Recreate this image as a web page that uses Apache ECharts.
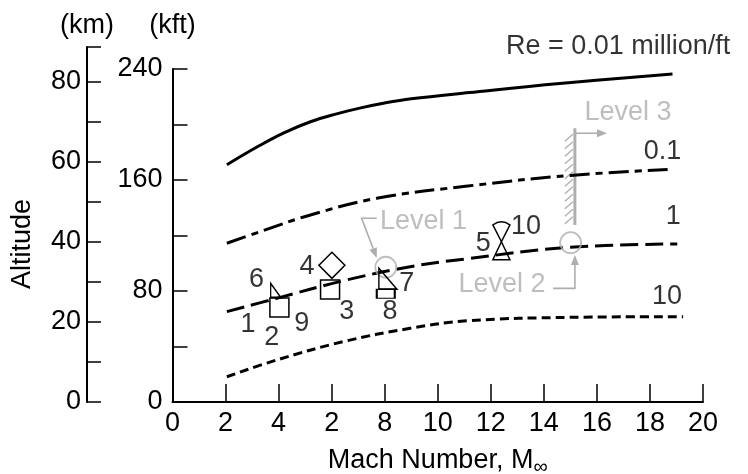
<!DOCTYPE html>
<html>
<head>
<meta charset="utf-8">
<script src="https://cdn.jsdelivr.net/npm/echarts@6/dist/echarts.min.js"></script>
<style>
  html, body { margin: 0; padding: 0; background: #fff; }
  #chart { width: 748px; height: 474px; }
</style>
</head>
<body>
<div id="chart"></div>
<script>
// axis labels
const xTickLabels = ['0', '2', '4', '2', '8', '10', '12', '14', '16', '18', '20'];
const kftLabelValues = [0, 80, 160, 240];
const kftTickValues = [40, 80, 120, 160, 200, 240];
const kmLabelValues = [0, 20, 40, 60, 80];
const kmTickValues = [0, 10, 20, 30, 40, 50, 60, 70, 80, 88.75];

// constant Reynolds number curves (Mach, altitude in kft)
const re001Mach = [2.05, 3.3, 4.2, 5.2, 6.15, 7.1, 8.0, 9.0, 11.2, 14.6, 18.85];
const re001Alt = [171, 185, 194, 202, 207.5, 212, 215.5, 218.5, 223, 229.5, 236.4];
const re01Mach = [2.05, 3.3, 5.2, 7.7, 11.2, 15.0, 18.85];
const re01Alt = [114.4, 122.7, 134.8, 146.8, 155.8, 163.3, 167.7];
const re1Mach = [2.05, 3.93, 6.44, 8.96, 11.0, 15.0, 19.03];
const re1Alt = [65.1, 74.7, 87.4, 97.5, 103, 111.5, 113.9];
const re10Mach = [2.05, 3.93, 6.44, 8.96, 11.1, 15.0, 19.25];
const re10Alt = [18.2, 30.3, 43.5, 53.1, 58.5, 61, 61.5];

const curveLabels = ['Re = 0.01 million/ft', '0.1', '1', '10'];
const curveLabelMach = [16.8, 18.47, 18.88, 18.64];
const curveLabelAlt = [255.9, 180.2, 134, 75.7];

// test points
const squareMach = [4.03, 5.94];
const squareAlt = [68.1, 81.1];
const diamondMach = [6.01];
const diamondAlt = [98.5];
const flagMach = [3.89];
const flagAlt = [80.5];
const wedgeMach = [8.12];
const wedgeAlt = [88.9];
const slabMach = [8.04];
const slabAlt = [78.0];
const cupMach = [12.4];
const cupAlt = [122.7];
const triMach = [12.4];
const triAlt = [109.0];

const pointLabels = ['1', '2', '3', '4', '5', '6', '7', '8', '9', '10'];
const pointLabelMach = [2.85, 3.74, 6.57, 5.07, 11.72, 3.17, 8.83, 8.20, 4.87, 13.33];
const pointLabelAlt = [55.5, 46.1, 65.1, 97.5, 114.4, 87.9, 85.5, 65.1, 56.9, 126.3];

// flight levels
const levelCircleMach = [8.04, 15.01];
const levelCircleAlt = [97.1, 114.8];
const levelLabels = ['Level 1', 'Level 2', 'Level 3'];
const levelLabelMach = [9.46, 12.42, 17.17];
const levelLabelAlt = [129.9, 84.3, 208.5];
const level1Arrow = [[7.7, 132.4], [7.13, 132.4], [7.7, 103.8]];
const level2Arrow = [[14.35, 81.9], [15.17, 81.9], [15.17, 105.9]];
const level3Arrow = [[15.17, 193.7], [16.38, 193.7]];
const wallMach = [15.17];
const wallBottom = [127.6];
const wallTop = [197.3];

const FONT = 'Liberation Sans, Arial, sans-serif';
const FS = 27;
const GREY = '#aeaeae';

const zip = (xs, ys) => xs.map((x, i) => [x, ys[i]]);

const curve = (mach, alt, dash) => ({
  type: 'line',
  data: zip(mach, alt),
  smooth: 0.4,
  symbol: 'none',
  silent: true,
  lineStyle: { color: '#000', width: 3, type: dash, cap: 'butt' }
});

const marker = (mach, alt, symbol, size) => ({
  type: 'scatter',
  data: zip(mach, alt),
  symbol: symbol,
  symbolSize: size,
  silent: true,
  z: 5,
  itemStyle: { color: 'rgba(0,0,0,0)', borderColor: '#000', borderWidth: 1.5, opacity: 1 }
});

const textSeries = (names, mach, alt, color, size) => ({
  type: 'scatter',
  symbolSize: 0,
  clip: false,
  silent: true,
  z: 6,
  data: names.map((n, i) => ({ name: n, value: [mach[i], alt[i]] })),
  label: {
    show: true, position: 'inside', formatter: '{b}',
    color: color, fontSize: size, fontFamily: FONT
  }
});

// grey pointer arrows: polyline through data coords, arrowhead at the last point
const arrows = [level1Arrow, level2Arrow, level3Arrow];
const arrowSeries = {
  type: 'custom',
  silent: true,
  z: 4,
  data: arrows.map((a, i) => [a[a.length - 1][0], a[a.length - 1][1], i]),
  renderItem: (params, api) => {
    const pts = arrows[params.dataIndex].map((p) => api.coord(p));
    const n = pts.length;
    const [x1, y1] = pts[n - 2];
    const [x2, y2] = pts[n - 1];
    const len = Math.hypot(x2 - x1, y2 - y1);
    const ux = (x2 - x1) / len, uy = (y2 - y1) / len;
    const hl = 10, hw = 4;
    const bx = x2 - ux * hl, by = y2 - uy * hl;
    const line = pts.slice(0, n - 1).concat([[bx, by]]);
    return {
      type: 'group',
      children: [
        { type: 'polyline', shape: { points: line }, style: { stroke: GREY, lineWidth: 1.6, fill: null } },
        {
          type: 'polygon',
          shape: { points: [[x2, y2], [bx - uy * hw, by + ux * hw], [bx + uy * hw, by - ux * hw]] },
          style: { fill: GREY }
        }
      ]
    };
  }
};

const chart = echarts.init(document.getElementById('chart'));

const axisLine = { show: true, lineStyle: { color: '#000', width: 2 } };

chart.setOption({
  animation: false,
  backgroundColor: '#fff',
  textStyle: { fontFamily: FONT },
  grid: [
    { left: 172.5, right: 45, top: 69, bottom: 72, outerBoundsMode: 'none' },
    { left: 87, width: 20, top: 47, bottom: 72, outerBoundsMode: 'none' }
  ],
  xAxis: [
    {
      type: 'value', gridIndex: 0, min: 0, max: 20, interval: 2,
      axisLine: axisLine,
      axisTick: { inside: true, length: 18, lineStyle: { color: '#000', width: 1.5 } },
      axisLabel: {
        color: '#000', fontSize: FS, margin: 8,
        formatter: (v) => xTickLabels[Math.round(v / 2)]
      },
      splitLine: { show: false },
      name: '{a|Mach Number, M}{s|∞}',
      nameLocation: 'middle',
      nameGap: 43,
      nameTextStyle: {
        rich: {
          a: { fontSize: FS, color: '#000', fontFamily: FONT },
          s: { fontSize: 20, color: '#000', fontFamily: FONT, padding: [12, 0, 0, 0] }
        }
      }
    },
    { type: 'value', gridIndex: 1, show: false, min: 0, max: 1 }
  ],
  yAxis: [
    {
      type: 'value', gridIndex: 0, min: 0, max: 240, interval: 40,
      axisLine: axisLine,
      axisTick: { inside: true, length: 15, customValues: kftTickValues, lineStyle: { color: '#000', width: 1.5 } },
      axisLabel: { color: '#000', fontSize: FS, margin: 10, customValues: kftLabelValues },
      splitLine: { show: false },
      name: '(kft)', nameLocation: 'end', nameGap: 30,
      nameTextStyle: { color: '#000', fontSize: FS, align: 'center' }
    },
    {
      type: 'value', gridIndex: 1, min: 0, max: 88.75, interval: 10,
      axisLine: axisLine,
      axisTick: { inside: true, length: 14, customValues: kmTickValues, lineStyle: { color: '#000', width: 1.5 } },
      axisLabel: { color: '#000', fontSize: FS, margin: 6, customValues: kmLabelValues },
      splitLine: { show: false },
      name: '(km)', nameLocation: 'end', nameGap: 8,
      nameTextStyle: { color: '#000', fontSize: FS, align: 'center' }
    }
  ],
  graphic: [{
    type: 'text', x: 22.5, y: 244, rotation: Math.PI / 2,
    style: { text: 'Altitude', font: FS + 'px ' + FONT, fill: '#000', align: 'center', verticalAlign: 'middle' }
  }],
  series: [
    curve(re001Mach, re001Alt, 'solid'),
    curve(re01Mach, re01Alt, [20, 6, 7, 6]),
    curve(re1Mach, re1Alt, [18, 7]),
    curve(re10Mach, re10Alt, [9, 5]),
    {
      type: 'custom',
      silent: true,
      data: wallMach.map((m, i) => [m, wallBottom[i], wallTop[i]]),
      renderItem: (params, api) => {
        const top = api.coord([api.value(0), api.value(2)]);
        const bot = api.coord([api.value(0), api.value(1)]);
        const children = [{
          type: 'line',
          shape: { x1: top[0], y1: top[1], x2: bot[0], y2: bot[1] },
          style: { stroke: GREY, lineWidth: 3 }
        }];
        for (let y = top[1] + 6; y < bot[1] - 4; y += 7.5) {
          children.push({
            type: 'line',
            shape: { x1: top[0] - 10, y1: y + 7, x2: top[0] - 2, y2: y },
            style: { stroke: GREY, lineWidth: 1.3 }
          });
        }
        return { type: 'group', children: children };
      }
    },
    arrowSeries,
    {
      type: 'scatter',
      data: zip(levelCircleMach, levelCircleAlt),
      symbol: 'circle', symbolSize: 21, silent: true, z: 4,
      itemStyle: { color: 'rgba(0,0,0,0)', borderColor: GREY, borderWidth: 1.8 }
    },
    marker(squareMach, squareAlt, 'rect', 19),
    marker(diamondMach, diamondAlt, 'diamond', 26),
    marker(flagMach, flagAlt, 'path://M0,0 L0,14 L10,14 Z', [10, 14]),
    marker(wedgeMach, wedgeAlt, 'path://M0,0 L0,21 L18,21 Z', [18, 21]),
    marker(slabMach, slabAlt, 'rect', [18, 9]),
    marker(cupMach, cupAlt, 'path://M0,4 Q8.5,-2 17,4 L8.5,20 Z', [17, 20]),
    marker(triMach, triAlt, 'triangle', [17, 18]),
    textSeries(pointLabels, pointLabelMach, pointLabelAlt, '#000', FS),
    textSeries(curveLabels, curveLabelMach, curveLabelAlt, '#000', FS),
    textSeries(levelLabels, levelLabelMach, levelLabelAlt, GREY, FS)
  ]
});
</script>
</body>
</html>
